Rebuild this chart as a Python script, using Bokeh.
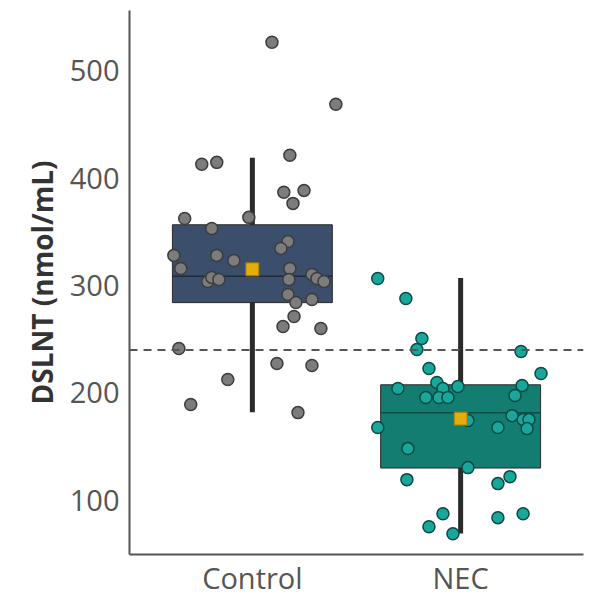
from bokeh.plotting import figure
from bokeh.models import Range1d, FixedTicker, Span, ColumnDataSource
from bokeh.embed import file_html
from bokeh.resources import INLINE

# ---- data ----
groups = ["Control", "NEC"]
group_pos = [1, 2]
q1 = [284, 130]
median = [308.5, 181.5]
q3 = [356.5, 207.5]
whisker_low = [182, 69]
whisker_high = [419, 307]
means = [315, 176]
threshold = 240

control_values = [526.5, 468.7, 412.8, 414.6, 421.2, 386.7, 388.5, 376.4, 362.4, 363.4,
                  353.1, 341.0, 334.5, 328.0, 328.0, 323.3, 315.8, 315.8, 310.3, 306.5,
                  303.7, 303.7, 307.5, 305.6, 305.6, 291.6, 284.2, 287.0, 271.1, 261.8,
                  259.9, 241.3, 227.3, 225.4, 212.4, 189.1, 181.6]
control_jitter = [0.094, 0.401, -0.243, -0.171, 0.180, 0.151, 0.248, 0.195, -0.325, -0.017,
                  -0.195, 0.171, 0.137, -0.377, -0.171, -0.089, -0.344, 0.180, 0.286, 0.310,
                  0.344, -0.214, -0.195, -0.161, 0.175, 0.171, 0.209, 0.286, 0.200, 0.147,
                  0.329, -0.353, 0.118, 0.286, -0.118, -0.296, 0.219]

nec_values = [306.5, 287.9, 250.6, 240.4, 238.5, 222.6, 218.0, 209.6, 204.0, 204.0,
              205.9, 206.8, 195.6, 195.6, 195.6, 197.5, 167.7, 174.2, 167.7, 178.8,
              175.1, 175.1, 166.7, 148.1, 130.4, 119.2, 115.5, 122.0, 87.5, 87.5,
              83.8, 75.4, 68.9]
nec_jitter = [-0.398, -0.263, -0.186, -0.210, 0.290, -0.152, 0.386, -0.114, -0.301, -0.085,
              -0.013, 0.295, -0.167, -0.104, -0.061, 0.261, -0.398, 0.035, 0.179, 0.247,
              0.300, 0.328, 0.319, -0.253, 0.035, -0.258, 0.179, 0.237, -0.085, 0.300,
              0.179, -0.152, -0.037]

y_ticks = [100, 200, 300, 400, 500]

# ---- styling ----
box_fill = ["#3B4E6B", "#137D72"]
median_color = ["#1F2B3C", "#0C4F48"]
point_fill = ["#7C7C7C", "#19A79B"]
point_line = ["#3C3C3C", "#0A4A45"]
half_w = 0.384
FONT = "Open Sans"

p = figure(width=595, height=599, output_backend="svg", toolbar_location=None,
           x_range=Range1d(0.41, 2.59), y_range=Range1d(49.5, 556),
           min_border_left=129, min_border_top=10, min_border_right=12, min_border_bottom=0)
p.outline_line_color = None
p.xgrid.visible = False
p.ygrid.visible = False
p.background_fill_color = "white"

box_src = ColumnDataSource(dict(
    x=group_pos,
    left=[g - half_w for g in group_pos],
    right=[g + half_w for g in group_pos],
    q1=q1, q3=q3, med=median, lo=whisker_low, hi=whisker_high, mean=means,
    fill=box_fill, medc=median_color))

# whiskers (behind box)
p.segment(x0="x", x1="x", y0="lo", y1="hi", source=box_src,
          line_color="#2B2B2B", line_width=5)
# boxes
p.quad(left="left", right="right", bottom="q1", top="q3", source=box_src,
       fill_color="fill", line_color="#2A2A2A", line_width=1)
# medians
p.segment(x0="left", x1="right", y0="med", y1="med", source=box_src,
          line_color="medc", line_width=1.5)

# jittered points
for i, (vals, jit) in enumerate([(control_values, control_jitter), (nec_values, nec_jitter)]):
    xs = [group_pos[i] + j for j in jit]
    p.scatter(x=xs, y=vals, size=12, marker="circle",
              fill_color=point_fill[i], line_color=point_line[i], line_width=1.5)

# threshold line
p.add_layout(Span(location=threshold, dimension="width", line_color="#555555",
                  line_width=2, line_dash="8 6"))

# means
p.scatter(x="x", y="mean", source=box_src, marker="square", size=13,
          fill_color="#E3AE0B", line_color="#9C7A05", line_width=1)

# axes
p.yaxis.ticker = FixedTicker(ticks=y_ticks)
p.xaxis.ticker = FixedTicker(ticks=group_pos)
p.xaxis.major_label_overrides = {pos: name for pos, name in zip(group_pos, groups)}
p.yaxis.axis_label = "DSLNT (nmol/mL)"

for ax in (p.xaxis[0], p.yaxis[0]):
    ax.axis_line_color = "#555555"
    ax.axis_line_width = 2
    ax.major_tick_out = 0
    ax.major_tick_in = 0
    ax.minor_tick_out = 0
    ax.minor_tick_in = 0
    ax.major_label_text_font = FONT
    ax.major_label_text_font_size = "29px"
    ax.major_label_text_color = "#555555"

p.yaxis.major_label_standoff = 10
p.xaxis.major_label_standoff = 3
p.yaxis.axis_label_text_font = FONT
p.yaxis.axis_label_text_font_style = "bold"
p.yaxis.axis_label_text_font_size = "28px"
p.yaxis.axis_label_text_color = "#333333"
p.yaxis.axis_label_standoff = 6

open("out.html", "w").write(file_html(p, INLINE))
